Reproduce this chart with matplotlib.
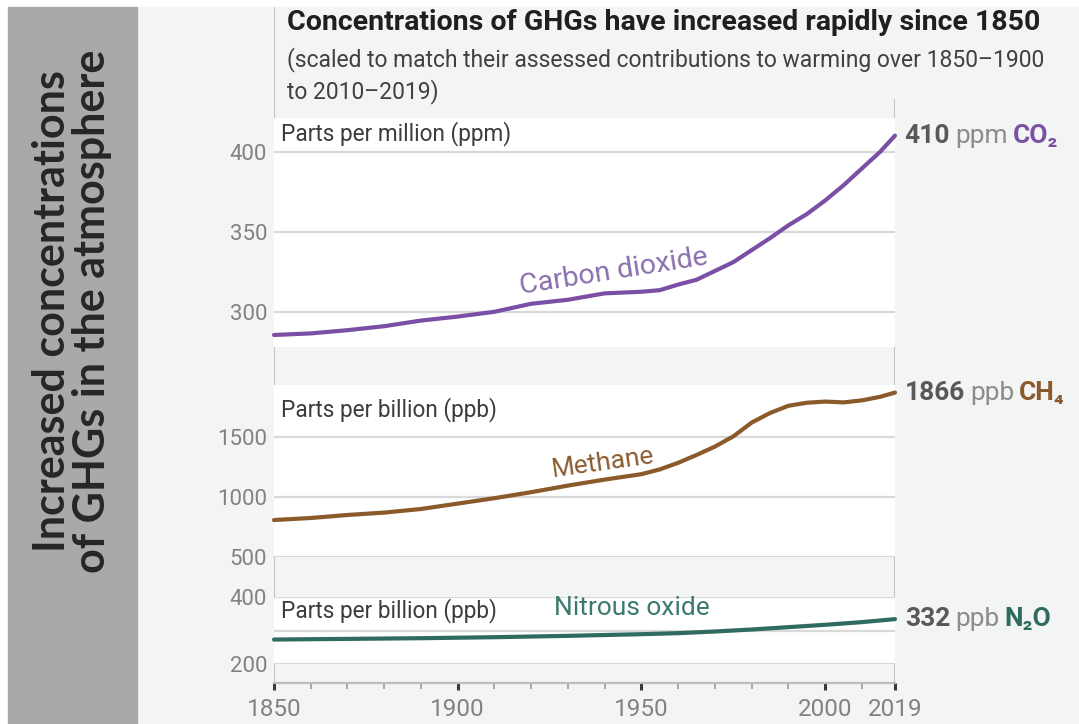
import matplotlib
matplotlib.use("Agg")
import matplotlib.pyplot as plt
import matplotlib.patches as patches
from matplotlib.ticker import FixedLocator


W, H = 1079, 724

NARROW = ["Roboto", "DejaVu Sans"]
WIDE = ["Lato", "DejaVu Sans"]

BG_COLOR = "#f3f4f4"
PANEL_GREY = "#a7a9ab"
GRID_COLOR = "#d9d9d9"
AXIS_COLOR = "#c4c4c4"
TICK_TEXT = "#828282"
DARK_TEXT = "#3c3c3c"
NUM_TEXT = "#58595b"

CO2_COLOR = "#7b4fa6"
CH4_COLOR = "#8a5a2b"
N2O_COLOR = "#2f6b5f"

# data
co2_years = [1850, 1860, 1870, 1880, 1890, 1900, 1910, 1920, 1930, 1940, 1950,
             1955, 1960, 1965, 1970, 1975, 1980, 1985, 1990, 1995, 2000, 2005,
             2010, 2015, 2019]
co2_ppm = [285.5, 286.5, 288.5, 291.0, 294.5, 297.0, 300.0, 305.0, 307.5, 311.5,
           312.5, 313.5, 317.0, 320.0, 325.5, 331.0, 338.5, 346.0, 354.0, 361.0,
           369.5, 379.0, 389.5, 400.0, 410.0]

ch4_years = [1850, 1860, 1870, 1880, 1890, 1900, 1910, 1920, 1930, 1940, 1950,
             1955, 1960, 1965, 1970, 1975, 1980, 1985, 1990, 1995, 2000, 2005,
             2010, 2015, 2019]
ch4_ppb = [808, 825, 850, 870, 900, 945, 990, 1040, 1095, 1145, 1190,
           1230, 1285, 1350, 1420, 1505, 1620, 1700, 1760, 1785, 1795, 1788,
           1805, 1835, 1870]

n2o_years = [1850, 1870, 1890, 1910, 1930, 1950, 1960, 1970, 1980, 1990, 2000,
             2010, 2019]
n2o_ppb = [273, 275, 277, 280, 284, 289, 292, 297, 303, 310, 317, 325, 334]

x_major = [1850, 1900, 1950, 2000, 2019]
x_minor = [1860, 1870, 1880, 1890, 1910, 1920, 1930, 1940, 1960, 1970, 1980,
           1990, 2010]

co2_ticks = [300, 350, 400]
ch4_ticks = [500, 1000, 1500]
n2o_ticks = [200, 400]
n2o_grid = [300]


def px_axes(fig, x0, y0, x1, y1, **kw):
    # pixel box (top-left origin) -> figure fraction axes
    return fig.add_axes([x0 / W, 1 - y1 / H, (x1 - x0) / W, (y1 - y0) / H], **kw)


def gas_panel(fig, y0, y1, ylim, ticks, years, values, color):
    ax = px_axes(fig, 274, y0, 895, y1)
    ax.set_facecolor("white")
    ax.set_xlim(1850, 2019)
    ax.set_ylim(*ylim)
    for s in ax.spines.values():
        s.set_visible(False)
    ax.set_xticks([])
    ax.yaxis.set_major_locator(FixedLocator(ticks))
    ax.tick_params(axis="y", length=0, pad=5, labelcolor=TICK_TEXT, labelsize=16)
    for lab in ax.get_yticklabels():
        lab.set_family(NARROW)
    for t in ticks:
        ax.axhline(t, color=GRID_COLOR, lw=1.6, zorder=1)
    ax.plot(years, values, color=color, lw=3.0, solid_capstyle="round",
            zorder=3, clip_on=False)
    return ax


def end_label(ax, x, y, number, unit, gas, gas_color):
    t1 = ax.annotate(number, xy=(x, y), xytext=(7, 0), textcoords="offset points",
                     ha="left", va="center", fontsize=19, fontweight="bold",
                     color=NUM_TEXT, family=NARROW, annotation_clip=False)
    t2 = ax.annotate(unit, xy=(1, 0), xycoords=t1, xytext=(3.5, 0),
                     textcoords="offset points", ha="left", va="bottom",
                     fontsize=19, color="#8c8c8c", family=NARROW)
    ax.annotate(gas, xy=(1, 0), xycoords=t2, xytext=(3.5, 0),
                textcoords="offset points", ha="left", va="bottom",
                fontsize=19, fontweight="bold", color=gas_color, family=NARROW)


fig = plt.figure(figsize=(W / 100, H / 100), dpi=100, facecolor="white")

# light background and grey side panel
fig.patches.append(patches.Rectangle((137 / W, 0), 1 - 137 / W, 1 - 7 / H,
                                     transform=fig.transFigure,
                                     color=BG_COLOR, zorder=-5))
fig.patches.append(patches.Rectangle((8 / W, 0), 129 / W, 1 - 7 / H,
                                     transform=fig.transFigure,
                                     color=PANEL_GREY, zorder=-5))
fig.text(72 / W, 1 - 311 / H,
         "Increased concentrations\nof GHGs in the atmosphere",
         rotation=90, ha="center", va="center", fontsize=31,
         fontweight="bold", color="#262626", family=WIDE, linespacing=1.0)

# base axes holding the time axis and the frame lines
bg = px_axes(fig, 274, 7, 895, 683)
bg.patch.set_alpha(0)
bg.set_xlim(1850, 2019)
bg.set_ylim(0, 1)
bg.set_yticks([])
for side in ["top", "left", "right"]:
    bg.spines[side].set_visible(False)
bg.spines["bottom"].set_color("#bdbdbd")
bg.spines["bottom"].set_linewidth(1.6)
bg.axvline(1850, ymin=0, ymax=1, color=AXIS_COLOR, lw=1.5)
bg.axvline(2019, ymin=0, ymax=(683 - 100) / (683 - 7), color=AXIS_COLOR, lw=1.5)
bg.xaxis.set_major_locator(FixedLocator(x_major))
bg.xaxis.set_minor_locator(FixedLocator(x_minor))
bg.tick_params(axis="x", which="major", direction="out", length=5, width=2.2,
               color="#3a3a3a", pad=6, labelsize=17.5, labelcolor=TICK_TEXT)
bg.tick_params(axis="x", which="minor", direction="out", length=4, width=1.2,
               color="#9a9a9a")
for lab in bg.get_xticklabels():
    lab.set_family(NARROW)

ax_co2 = gas_panel(fig, 118, 347, (278, 421), co2_ticks, co2_years, co2_ppm, CO2_COLOR)
ax_ch4 = gas_panel(fig, 385, 557, (500, 1933), ch4_ticks, ch4_years, ch4_ppb, CH4_COLOR)
ax_n2o = gas_panel(fig, 597, 664, (200, 400), n2o_ticks, n2o_years, n2o_ppb, N2O_COLOR)
for g in n2o_grid:
    ax_n2o.axhline(g, color=GRID_COLOR, lw=1.6, zorder=1)

# units inside each band
ax_co2.text(0.011, 0.934, "Parts per million (ppm)", transform=ax_co2.transAxes,
            ha="left", va="center", fontsize=16.3, color=DARK_TEXT, family=NARROW)
ax_ch4.text(0.011, 0.855, "Parts per billion (ppb)", transform=ax_ch4.transAxes,
            ha="left", va="center", fontsize=16.3, color=DARK_TEXT, family=NARROW)
ax_n2o.text(0.011, 0.80, "Parts per billion (ppb)", transform=ax_n2o.transAxes,
            ha="left", va="center", fontsize=16.3, color=DARK_TEXT, family=NARROW)

# series names
ax_co2.text(1942.5, 325, "Carbon dioxide", rotation=9, ha="center", va="center",
            fontsize=20.5, color="#8a70ae", family=NARROW)
ax_ch4.text(1939.5, 1283, "Methane", rotation=8, ha="center", va="center",
            fontsize=19, color="#8b5c30", family=NARROW)
ax_n2o.text(1947.5, 366, "Nitrous oxide", ha="center", va="center",
            fontsize=19, color="#3b7a6d", family=NARROW)

# end values
end_label(ax_co2, 2019, co2_ppm[-1], "410", "ppm", "CO\u2082", CO2_COLOR)
end_label(ax_ch4, 2019, ch4_ppb[-1], "1866", "ppb", "CH\u2084", CH4_COLOR)
end_label(ax_n2o, 2019, n2o_ppb[-1], "332", "ppb", "N\u2082O", N2O_COLOR)

# title block
fig.text(287 / W, 1 - 22 / H, "Concentrations of GHGs have increased rapidly since 1850",
         ha="left", va="center", fontsize=20.5, fontweight="bold", color="#1f1f1f",
         family=NARROW)
fig.text(287 / W, 1 - 60 / H,
         "(scaled to match their assessed contributions to warming over 1850\u20131900",
         ha="left", va="center", fontsize=16.5, color="#404040", family=NARROW)
fig.text(287 / W, 1 - 92 / H, "to 2010\u20132019)",
         ha="left", va="center", fontsize=16.5, color="#404040", family=NARROW)

fig.savefig("out.png", dpi=100, facecolor=fig.get_facecolor())
